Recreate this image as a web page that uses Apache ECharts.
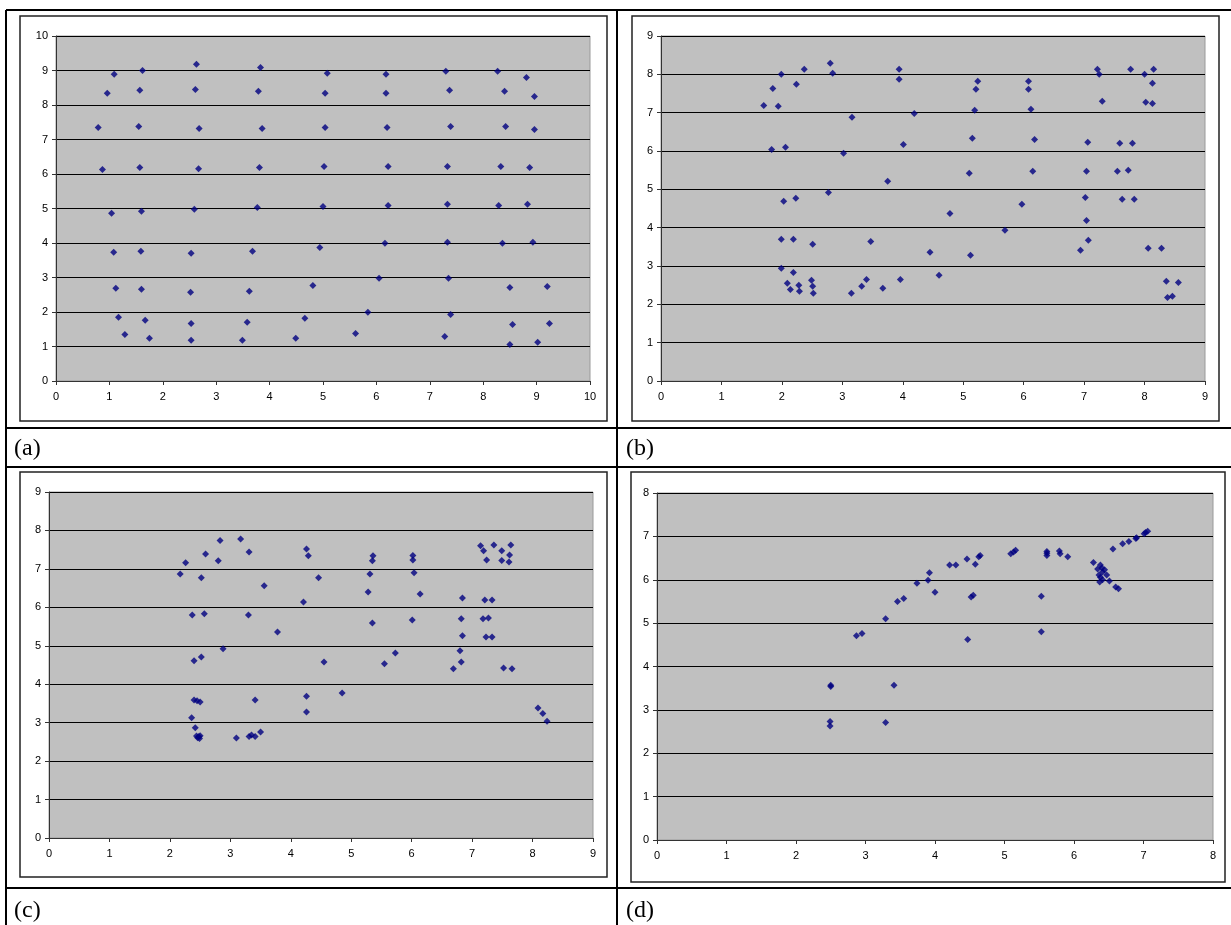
<!DOCTYPE html>
<html>
<head>
<meta charset="utf-8">
<script src="https://cdn.jsdelivr.net/npm/echarts@6/dist/echarts.min.js"></script>
<style>
  html, body { margin: 0; padding: 0; background: #fff; }
  #main { width: 1231px; height: 925px; }
</style>
</head>
<body>
<div id="main"></div>
<script>
// panel labels and axis ranges
var panelNames = ['(a)', '(b)', '(c)', '(d)'];
var xMaxes = [10, 9, 9, 8];
var yMaxes = [10, 9, 9, 8];

// (a) regular 9x9 lattice
var pointsA = [
  [1.09,8.89],[0.96,8.34],[0.79,7.35],[0.87,6.13],[1.04,4.86],[1.08,3.73],[1.12,2.69],[1.17,1.85],[1.29,1.35],
  [1.62,9.00],[1.57,8.43],[1.55,7.38],[1.57,6.19],[1.60,4.92],[1.59,3.76],[1.60,2.66],[1.67,1.76],[1.75,1.24],
  [2.63,9.18],[2.61,8.45],[2.68,7.32],[2.67,6.15],[2.59,4.98],[2.53,3.70],[2.52,2.57],[2.53,1.67],[2.53,1.18],
  [3.83,9.09],[3.79,8.40],[3.86,7.32],[3.81,6.19],[3.77,5.03],[3.68,3.76],[3.62,2.60],[3.58,1.70],[3.49,1.18],
  [4.49,1.24],[4.66,1.82],[4.81,2.77],[4.94,3.87],[5.00,5.06],[5.02,6.22],[5.04,7.35],[5.04,8.34],[5.08,8.92],
  [6.18,8.89],[6.18,8.34],[6.20,7.35],[6.22,6.22],[6.22,5.09],[6.16,3.99],[6.05,2.98],[5.84,1.99],[5.61,1.38],
  [7.30,8.98],[7.37,8.43],[7.39,7.38],[7.33,6.22],[7.33,5.12],[7.33,4.02],[7.35,2.98],[7.39,1.93],[7.28,1.29],
  [8.27,8.98],[8.40,8.40],[8.42,7.38],[8.33,6.22],[8.29,5.09],[8.36,3.99],[8.50,2.71],[8.55,1.64],[8.50,1.06],
  [8.81,8.80],[8.96,8.25],[8.96,7.29],[8.87,6.19],[8.83,5.12],[8.93,4.02],[9.20,2.74],[9.24,1.67],[9.02,1.12]
];

// (b)
var pointsB = [
  [1.70,7.19],[1.85,7.63],[1.83,6.04],[1.94,7.17],[1.99,8.00],[2.06,6.10],[2.24,7.74],[2.37,8.13],
  [2.03,4.69],[2.23,4.77],[1.99,3.70],[2.19,3.70],[2.51,3.57],[1.99,2.94],[2.19,2.83],[2.09,2.55],
  [2.14,2.39],[2.28,2.50],[2.29,2.34],[2.49,2.63],[2.51,2.47],[2.52,2.29],[2.80,8.29],[2.84,8.03],
  [2.77,4.92],[3.02,5.94],[3.16,6.88],[3.15,2.29],[3.32,2.47],[3.40,2.65],[3.47,3.64],[3.67,2.42],
  [3.75,5.21],[3.94,8.13],[3.94,7.87],[4.01,6.17],[3.96,2.65],[4.19,6.98],
  [4.45,3.36],[4.60,2.76],[4.78,4.37],[5.10,5.42],[5.12,3.28],[5.15,6.33],[5.19,7.06],[5.21,7.61],
  [5.24,7.82],[5.69,3.93],[5.97,4.61],[6.08,7.82],[6.08,7.61],[6.12,7.09],[6.18,6.30],[6.15,5.47],
  [6.94,3.41],[7.07,3.67],[7.04,4.19],[7.02,4.79],[7.04,5.47],[7.06,6.23],[7.22,8.13],[7.25,8.00],
  [7.30,7.30],[7.59,6.20],[7.80,6.20],[7.55,5.47],[7.73,5.50],[7.63,4.74],[7.83,4.74],[7.77,8.13],
  [8.00,8.00],[8.15,8.13],[8.13,7.77],[8.02,7.27],[8.13,7.24],[8.06,3.46],[8.28,3.46],[8.36,2.60],
  [8.56,2.57],[8.38,2.18],[8.46,2.21]
];

// (c)
var pointsC = [
  [2.17,6.87],[2.26,7.16],[2.37,5.80],[2.52,6.77],[2.59,7.39],[2.57,5.83],[2.40,4.61],[2.52,4.71],
  [2.40,3.59],[2.45,3.57],[2.50,3.54],[2.36,3.13],[2.42,2.87],[2.44,2.65],[2.48,2.64],[2.49,2.59],
  [2.46,2.61],[2.50,2.66],[2.80,7.21],[2.83,7.74],[2.88,4.92],[3.17,7.78],[3.31,7.44],[3.30,5.80],
  [3.10,2.60],[3.31,2.64],[3.35,2.68],[3.41,2.64],[3.41,3.59],[3.50,2.76],[3.56,6.56],[3.78,5.36],
  [4.21,6.14],[4.26,7.52],[4.29,7.34],[4.26,3.69],[4.26,3.28],[4.46,6.77],[4.55,4.58],[4.85,3.77],
  [5.28,6.40],[5.31,6.87],[5.35,7.21],[5.36,7.34],[5.35,5.59],[5.55,4.53],[5.73,4.81],
  [6.02,7.35],[6.02,7.23],[6.04,6.90],[6.14,6.35],[6.01,5.67],
  [6.69,4.40],[6.82,4.58],[6.80,4.87],[6.84,5.26],[6.82,5.70],[6.84,6.24],
  [7.14,7.60],[7.19,7.47],[7.24,7.23],[7.36,7.62],[7.49,7.47],[7.49,7.22],[7.61,7.18],[7.62,7.36],
  [7.64,7.62],[7.21,6.19],[7.33,6.19],[7.18,5.70],[7.27,5.72],[7.23,5.23],[7.33,5.23],[7.52,4.42],
  [7.66,4.40],[8.09,3.38],[8.17,3.24],[8.24,3.04]
];

// (d)
var pointsD = [
  [2.50,3.54],[2.50,3.57],[2.49,2.73],[2.49,2.63],[2.87,4.71],[2.95,4.76],[3.29,5.10],[3.29,2.71],
  [3.41,3.57],[3.46,5.50],[3.55,5.57],[3.74,5.92],[3.90,5.99],[3.92,6.16],[4.00,5.71],[4.21,6.34],
  [4.30,6.34],[4.46,6.48],[4.58,6.36],[4.63,6.53],[4.65,6.56],[4.52,5.60],[4.55,5.64],[4.47,4.62],
  [5.09,6.60],[5.13,6.64],[5.16,6.68],[5.53,5.62],[5.53,4.80],[5.61,6.65],[5.61,6.56],[5.61,6.61],
  [5.79,6.66],[5.80,6.60],[5.91,6.53],[6.28,6.40],[6.34,6.25],[6.38,6.34],[6.40,6.27],[6.36,6.11],
  [6.41,6.18],[6.44,6.23],[6.38,6.06],[6.37,5.95],[6.41,6.00],[6.47,6.11],[6.51,5.97],[6.60,5.83],
  [6.64,5.79],[6.56,6.71],[6.70,6.83],[6.79,6.88],[6.89,6.95],[6.90,6.97],[7.01,7.06],[7.03,7.09],
  [7.06,7.12]
];

var allPoints = [pointsA, pointsB, pointsC, pointsD];

// plot rectangles (px)
var grids = [
  { left: 56, top: 36, width: 534, height: 345 },
  { left: 661, top: 36, width: 544, height: 345 },
  { left: 49, top: 492, width: 544, height: 346 },
  { left: 657, top: 493, width: 556, height: 347 }
];
// chart frames [x1, y1, x2, y2]
var frames = [
  [20, 16, 607, 421],
  [632, 16, 1219, 421],
  [20, 472, 607, 877],
  [631, 472, 1225, 882]
];
var labelPos = [[14, 449], [626, 449], [14, 911], [626, 911]];

var myChart = echarts.init(document.getElementById('main'));

var axisText = { color: '#000', fontFamily: 'Liberation Sans, Arial', fontSize: 11 };

var option = {
  backgroundColor: '#fff',
  animation: false,
  grid: grids.map(function (g) {
    return {
      left: g.left, top: g.top, width: g.width, height: g.height,
      show: true, backgroundColor: '#C0C0C0', borderColor: '#9a9a9a', borderWidth: 1,
      containLabel: false, outerBoundsMode: 'none'
    };
  }),
  xAxis: grids.map(function (g, i) {
    return {
      type: 'value', gridIndex: i, min: 0, max: xMaxes[i], interval: 1,
      axisLine: { show: true, onZero: false, lineStyle: { color: '#333', width: 1 } },
      axisTick: { show: true, length: 4, lineStyle: { color: '#333' } },
      axisLabel: Object.assign({ margin: 10 }, axisText),
      splitLine: { show: false }
    };
  }),
  yAxis: grids.map(function (g, i) {
    return {
      type: 'value', gridIndex: i, min: 0, max: yMaxes[i], interval: 1,
      axisLine: { show: true, onZero: false, lineStyle: { color: '#333', width: 1 } },
      axisTick: { show: true, length: 4, lineStyle: { color: '#333' } },
      axisLabel: Object.assign({ margin: 8 }, axisText),
      splitLine: { show: true, lineStyle: { color: '#000', width: 1 } }
    };
  }),
  series: allPoints.map(function (pts, i) {
    return {
      type: 'scatter', xAxisIndex: i, yAxisIndex: i,
      symbol: 'diamond', symbolSize: 7,
      itemStyle: { color: '#000080' },
      data: pts
    };
  }),
  graphic: []
};

// table lines (right and bottom edges fall outside the picture)
var tableLines = [
  [6, 10, 1231, 10], [6, 428, 1231, 428], [6, 467, 1231, 467], [6, 888, 1231, 888],
  [6, 10, 6, 925], [617, 10, 617, 925]
];
tableLines.forEach(function (l) {
  option.graphic.push({
    type: 'line', silent: true, z: 10,
    shape: { x1: l[0], y1: l[1], x2: l[2], y2: l[3] },
    style: { stroke: '#000', lineWidth: 2 }
  });
});
frames.forEach(function (f) {
  option.graphic.push({
    type: 'rect', silent: true, z: -1,
    shape: { x: f[0], y: f[1], width: f[2] - f[0], height: f[3] - f[1] },
    style: { fill: 'none', stroke: '#222', lineWidth: 1.5 }
  });
});
panelNames.forEach(function (name, i) {
  option.graphic.push({
    type: 'text', silent: true,
    x: labelPos[i][0], y: labelPos[i][1],
    style: {
      text: name, fill: '#000', font: '24px "Liberation Serif", "Times New Roman", serif',
      verticalAlign: 'middle', align: 'left'
    }
  });
});

myChart.setOption(option);
</script>
</body>
</html>
